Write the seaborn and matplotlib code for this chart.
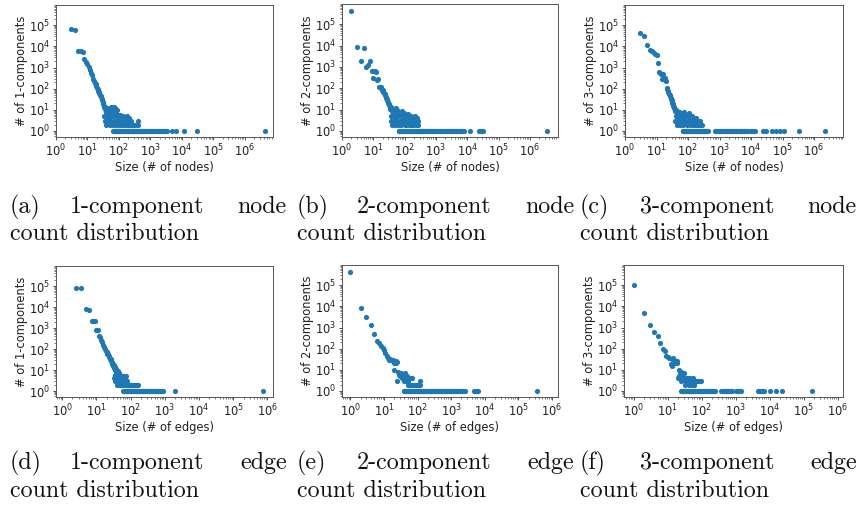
import matplotlib
matplotlib.use('Agg')
import matplotlib.pyplot as plt
import matplotlib.ticker as mticker
import seaborn as sns
import pandas as pd

# sizes that occur more than once: (size, count); sizes seen only once are listed in *_once

# (a) 1-components, node size
a_size = [3, 4, 5, 6, 7, 8, 9, 10, 11, 12, 13, 14, 15, 16, 17, 18, 19, 20, 21, 22, 23, 24, 25, 26, 27, 28, 29, 30,
          31, 32, 33, 34, 35, 36, 37, 38, 39, 40, 42, 44, 46, 48, 50,
          34, 36, 38, 40, 41, 43, 45, 47, 49, 51, 53, 55, 57, 59, 61, 63, 65, 67, 69, 72, 74, 77, 80, 83, 86, 89, 92,
          96, 100, 104, 108, 112, 117, 122, 127, 132, 138, 144, 150, 158, 166, 175, 185, 195, 210, 225, 240, 260, 280,
          300, 320, 390, 390]
a_count = [65000, 60000, 6200, 6000, 5500, 2600, 1900, 1500, 1100, 800, 560, 420, 300, 230, 190, 160, 130, 110, 95, 80,
           70, 60, 52, 45, 40, 33, 28, 24, 21, 18, 16, 14, 12, 11, 13, 9, 8, 10, 7, 9, 6, 8, 5,
           5, 3, 6, 2, 4, 12, 3, 7, 4, 2, 9, 13, 3, 6, 11, 2, 5, 8, 13, 3, 7, 12, 2, 5, 10, 3, 6,
           4, 2, 6, 3, 5, 2, 4, 5, 3, 5, 2, 4, 3, 2, 5, 3, 2, 4, 2, 3, 2, 2,
           2, 2, 3, 2]
a_once = [66, 70, 74, 78, 82, 86, 90, 95, 100, 106, 112, 118, 125, 132, 140, 148, 157, 166, 176, 187, 198, 210, 223,
          237, 251, 266, 282, 299, 317, 336, 356, 377, 400, 430, 460, 500, 540, 580, 630, 680, 740, 800, 870, 950, 1030,
          1120, 1220, 1330, 1450, 1600, 1750, 1900, 2100, 2300, 2500, 2750, 3000, 3300, 4800, 6600, 11500, 30000,
          4400000]

# (b) 2-components, node size
b_size = [2, 3, 4, 5, 6, 7, 8, 9, 10, 11, 12, 13, 14, 15, 16, 17, 18, 19, 20, 21, 22, 23, 24, 25, 26, 27, 28, 29, 30,
          31, 32, 33, 34, 35, 37, 39, 41, 43, 45, 47, 49, 52, 55, 58,
          36, 38, 40, 42, 44, 46, 48, 50, 53, 56, 59, 62, 65, 68, 71, 74, 78, 82, 86, 90, 95, 100, 105, 110, 116, 122,
          128, 135, 142, 150, 158, 166, 175, 185, 195, 205, 215, 228, 240, 255, 270, 275]
b_count = [420000, 8500, 2000, 8000, 1000, 1300, 2000, 650, 320, 640, 600, 250, 260, 120, 115, 110, 100, 80, 85, 65,
           60, 50, 55, 40, 35, 30, 28, 22, 20, 18, 16, 14, 12, 11, 13, 9, 10, 8, 7, 9, 6, 12, 5, 8,
           3, 5, 2, 7, 3, 11, 4, 2, 6, 3, 10, 2, 5, 8, 3, 6, 2, 9, 4, 3, 7, 2, 5, 3, 4, 2,
           6, 3, 4, 2, 5, 3, 2, 4, 3, 2, 5, 3, 2, 4, 2, 3]
b_once = [64, 68, 72, 76, 80, 85, 90, 95, 100, 106, 112, 118, 125, 132, 140, 148, 157, 166, 176, 187, 198, 210, 223,
          237, 251, 266, 282, 299, 317, 336, 356, 377, 400, 430, 460, 500, 540, 580, 630, 680, 740, 800, 870, 950, 1030,
          1120, 1220, 1330, 1450, 1600, 1750, 1900, 2100, 2300, 2500, 2750, 3000, 3300, 3600, 4000, 4400, 4800, 5300,
          5800, 6400, 7000, 7600, 12000, 24000, 27000, 31000, 3500000]

# (c) 3-components, node size
c_size = [3, 4, 5, 6, 7, 8, 9, 10, 11, 12, 13, 14, 15, 16, 17, 18, 19, 20, 21, 22, 23, 24, 25, 26, 27, 28, 29, 30,
          31, 32, 33, 34, 35, 36, 38, 40, 42, 44, 46, 48, 50,
          40, 42, 44, 46, 48, 50, 53, 56, 59, 62, 65, 68, 72, 76, 80, 85, 90, 95, 100, 106, 112, 118, 125, 132, 140,
          148, 157, 166, 176, 187, 198, 210, 225, 240, 255, 270]
c_count = [45000, 30000, 11000, 6500, 6000, 5200, 4500, 3800, 1600, 600, 550, 500, 300, 480, 280, 320, 260, 230, 110,
           100, 80, 70, 55, 50, 45, 38, 32, 28, 25, 20, 18, 16, 14, 12, 11, 9, 10, 8, 7, 6, 8,
           3, 5, 2, 6, 3, 8, 4, 2, 7, 3, 5, 2, 8, 4, 3, 6, 2, 5, 3, 7, 2, 4, 3, 5, 2,
           4, 3, 2, 4, 3, 2, 3, 2, 3, 2, 2]
c_once = [67, 71, 75, 80, 85, 90, 95, 100, 106, 112, 118, 125, 132, 140, 148, 157, 166, 176, 187, 198, 210, 223, 237,
          251, 266, 282, 299, 317, 336, 356, 377, 400, 440, 700, 750, 800, 870, 950, 1030, 1120, 1220, 1330, 1450,
          1600, 1750, 1900, 2100, 2300, 2500, 2750, 3000, 3300, 3600, 4000, 4400, 4800, 5300, 5800, 6400, 7000, 7800,
          10000, 11500, 13000, 24000, 30000, 45000, 60000, 85000, 110000, 330000, 2200000]

# (d) 1-components, edge size
d_size = [2.5, 3.6, 4.9, 6.1, 7.2, 8.0, 8.9, 10, 11.2, 12, 13, 14, 15, 16, 17, 18, 19, 20, 21, 22, 23, 24, 25, 26,
          27, 28, 29, 30, 31, 32, 33, 34, 35, 36, 37, 38, 40, 42, 44, 46, 48, 50,
          32, 34, 36, 38, 40, 42, 44, 46, 48, 50, 52, 54, 56, 58, 60, 62, 65, 68, 70, 72, 75, 78, 82, 86, 90, 95, 100,
          105, 110, 115, 120, 128, 135, 142, 150, 158, 165]
d_count = [80000, 78000, 8000, 7000, 2100, 2100, 2200, 800, 800, 400, 380, 260, 220, 150, 130, 100, 80, 70, 60, 55,
           45, 40, 35, 32, 28, 24, 20, 17, 15, 18, 12, 14, 10, 12, 9, 11, 8, 9, 6, 7, 5, 6,
           4, 6, 3, 5, 2, 4, 3, 5, 2, 3, 4, 2, 3, 5, 2, 3, 4, 2, 3, 5, 2, 3, 2, 2, 2, 2, 2,
           2, 2, 2, 2, 2, 2, 2, 2, 2, 2]
d_once = [60, 64, 68, 72, 76, 80, 85, 90, 95, 100, 106, 112, 118, 125, 132, 140, 148, 157, 166, 176, 187, 198, 210,
          223, 237, 251, 266, 282, 299, 317, 336, 356, 377, 400, 430, 460, 500, 540, 580, 630, 680, 740, 800, 870,
          2000, 750000]

# (e) 2-components, edge size
e_size = [1, 2, 3, 4, 5, 6, 7, 8, 9, 10, 11, 12, 13, 14, 15, 16, 17, 18, 19, 20, 21, 22, 23, 24, 20, 24,
          26, 28, 30, 32, 34, 36, 38, 40, 42, 44, 46, 48, 50, 52, 55, 60, 63, 66, 67, 70, 80, 90, 100, 110, 115, 120]
e_count = [400000, 8700, 3000, 1250, 500, 240, 180, 140, 110, 85, 60, 45, 35, 30, 32, 28, 30, 25, 28, 22, 24, 25, 20,
           24, 10, 3, 8, 6, 5, 7, 4, 6, 3, 5, 7, 4, 3, 5, 2, 3, 2, 2, 4, 2, 4, 2, 2, 2, 2, 2, 3, 2]
e_once = [38, 40, 42, 44, 47, 50, 53, 56, 60, 64, 68, 72, 76, 80, 85, 90, 95, 100, 106, 112, 118, 125, 132, 140, 148,
          157, 166, 176, 187, 198, 210, 223, 237, 251, 266, 282, 299, 317, 336, 356, 377, 400, 430, 460, 500, 540,
          580, 630, 680, 740, 800, 870, 950, 1030, 1120, 1220, 1330, 1450, 1600, 1750, 1900, 2100, 2300, 2550, 4800,
          5400, 6300, 360000]

# (f) 3-components, edge size
f_size = [1, 2, 3, 4, 5, 6, 7, 8, 9, 10, 11, 13, 14, 15, 12, 13, 16, 18, 19,
          20, 21, 22, 23, 24, 25, 26, 28, 30, 31, 33, 35, 38, 40, 42, 45, 48, 50, 55, 58, 60, 62, 72, 85, 95]
f_count = [100000, 4700, 1250, 630, 400, 190, 100, 80, 43, 40, 35, 33, 35, 30, 18, 16, 20, 22, 25,
           4, 5, 10, 8, 8, 3, 5, 4, 7, 3, 2, 4, 3, 4, 2, 4, 3, 2, 4, 2, 2, 3, 3, 3, 3]
f_once = [25, 27, 29, 31, 33, 36, 39, 42, 45, 48, 52, 56, 60, 65, 70, 75, 80, 86, 92, 100, 108, 116, 125, 135, 145,
          155, 167, 180, 195, 210, 225, 240, 380, 410, 440, 480, 520, 560, 610, 660, 720, 780, 1050, 1150, 1250, 1400,
          4500, 5000, 5500, 6300, 7000, 10500, 15500, 23000, 180000]

x_ticks = [1, 10, 100, 1e3, 1e4, 1e5, 1e6]
y_ticks = [1, 10, 100, 1e3, 1e4, 1e5]

panels = [
    ('a', a_size, a_count, a_once, 'nodes', 1, 'node', (1, 7.8e6)),
    ('b', b_size, b_count, b_once, 'nodes', 2, 'node', (1, 7.9e6)),
    ('c', c_size, c_count, c_once, 'nodes', 3, 'node', (1, 8.3e6)),
    ('d', d_size, d_count, d_once, 'edges', 1, 'edge', (0.66, 1.45e6)),
    ('e', e_size, e_count, e_once, 'edges', 2, 'edge', (0.56, 1.5e6)),
    ('f', f_size, f_count, f_once, 'edges', 3, 'edge', (0.51, 1.45e6)),
]

W, H = 859, 512
fig = plt.figure(figsize=(W / 100, H / 100), dpi=100)

# axes boxes in pixels: left, right, top, bottom
boxes = [(56, 273, 5, 137), (342, 558, 4, 137), (625, 843, 5, 137),
         (56, 273, 266, 397), (342, 558, 265, 397), (624, 843, 265, 397)]
col_x = [0, 287, 570]
cap_y = [(207, 234), (463, 491)]

fs = 8.3
for i, (lab, sz, ct, once, unit, k, word, xl) in enumerate(panels):
    l, r, t, b = boxes[i]
    ax = fig.add_axes([l / W, 1 - b / H, (r - l) / W, (b - t) / H])
    df = pd.DataFrame({'size': list(sz) + list(once),
                       'count': list(ct) + [1] * len(once)})
    sns.scatterplot(data=df, x='size', y='count', ax=ax, s=14, linewidth=0,
                    color='#1f77b4', alpha=1)
    ax.set_xscale('log')
    ax.set_yscale('log')
    ax.set_xlim(*xl)
    ax.set_ylim(0.52, 9e5)
    ax.set_xticks(x_ticks)
    ax.set_yticks(y_ticks)
    for axis in (ax.xaxis, ax.yaxis):
        axis.set_minor_locator(mticker.LogLocator(base=10, subs=range(2, 10), numticks=20))
        axis.set_minor_formatter(mticker.NullFormatter())
    ax.set_xlim(*xl)
    ax.set_ylim(0.52, 9e5)
    ax.tick_params(which='major', length=2.5, width=0.6, labelsize=fs, pad=1.5, colors='#333333',
                   labelcolor='#222222')
    ax.tick_params(which='minor', length=1.4, width=0.5, colors='#444444')
    for sp in ax.spines.values():
        sp.set_color('#555555')
        sp.set_linewidth(0.7)
    ax.set_xlabel(f'Size (# of {unit})', fontsize=fs, labelpad=1, color='#222222')
    ax.set_ylabel(f'# of {k}-components', fontsize=fs, labelpad=1, color='#222222')

    row, col = divmod(i, 3)
    x0 = col_x[col]
    y1, y2 = cap_y[row]
    cap = dict(family=['cmr10', 'DejaVu Serif'], fontsize=17.3, va='center', color='#111111')
    fig.text((x0 + 10) / W, 1 - y1 / H, f'({lab})', ha='left', **cap)
    fig.text((x0 + 137) / W, 1 - y1 / H, f'{k}-component', ha='center', **cap)
    fig.text((x0 + 287) / W, 1 - y1 / H, word, ha='right', **cap)
    fig.text((x0 + 10) / W, 1 - y2 / H, 'count distribution', ha='left', **cap)

fig.savefig('out.png', dpi=100)
